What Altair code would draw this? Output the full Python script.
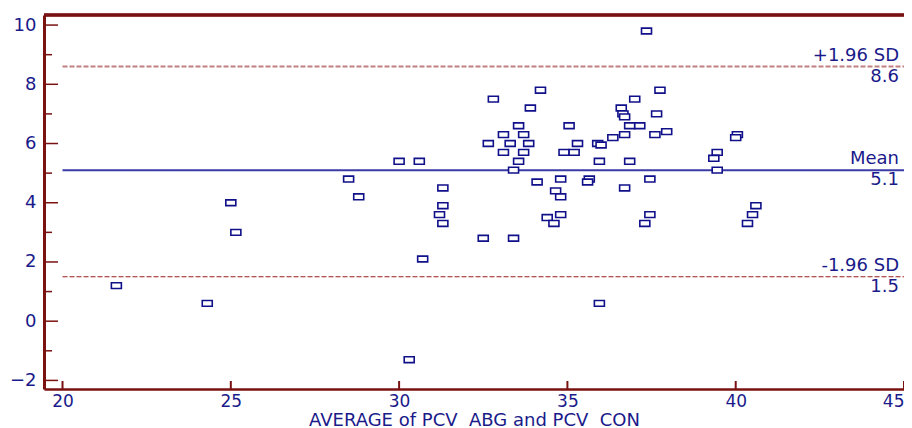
import altair as alt
import pandas as pd

# Bland-Altman data: (average, difference)
avg_vals = [21.6, 24.3, 25.0, 25.15, 28.5, 28.8, 30.0, 30.6, 30.7, 30.3,
            31.3, 31.3, 31.2, 31.3, 32.5, 33.4, 34.1, 34.8, 34.65, 34.8,
            34.8, 34.4, 34.6, 34.2, 32.8, 33.9, 33.55, 35.05, 33.1, 33.7,
            32.65, 33.3, 33.85, 35.3, 33.1, 33.7, 34.9, 35.2, 33.55, 33.4,
            37.35, 37.75, 37.0, 36.6, 36.65, 36.7, 37.65, 36.85, 37.15, 36.7,
            37.6, 37.95, 36.35, 35.9, 36.0, 35.95, 36.85, 40.05, 40.0, 39.45,
            39.35, 39.45, 35.65, 35.6, 37.45, 36.7, 37.45, 37.3, 40.6, 40.5,
            40.35, 35.95]
diff_vals = [1.2, 0.6, 4.0, 3.0, 4.8, 4.2, 5.4, 5.4, 2.1, -1.3,
             4.5, 3.9, 3.6, 3.3, 2.8, 2.8, 4.7, 4.8, 4.4, 4.2,
             3.6, 3.5, 3.3, 7.8, 7.5, 7.2, 6.6, 6.6, 6.3, 6.3,
             6.0, 6.0, 6.0, 6.0, 5.7, 5.7, 5.7, 5.7, 5.4, 5.1,
             9.8, 7.8, 7.5, 7.2, 7.0, 6.9, 7.0, 6.6, 6.6, 6.3,
             6.3, 6.4, 6.2, 6.0, 5.95, 5.4, 5.4, 6.3, 6.2, 5.7,
             5.5, 5.1, 4.8, 4.7, 4.8, 4.5, 3.6, 3.3, 3.9, 3.6,
             3.3, 0.6]

ref_values = [8.6, 5.1, 1.5]
ref_names = ["+1.96 SD", "Mean", "-1.96 SD"]
ref_labels = ["8.6", "5.1", "1.5"]
ref_colors = ["#c08080", "#3a3aa6", "#9a1c1c"]
ref_dash = [[5, 2], [1, 0], [5, 2]]
ref_width = [2, 2, 1.2]

x_ticks = [20, 25, 30, 35, 40, 45]
y_major = [-2, 0, 2, 4, 6, 8, 10]
y_minor = [-1, 1, 3, 5, 7, 9]

X_DOMAIN = [19.45, 45.0]
Y_DOMAIN = [-2.29, 10.34]
W, H = 860, 374

AXIS_COL = "#7a1212"
TEXT_COL = "#1a1a8a"
FONT = "DejaVu Sans"

pts = pd.DataFrame({"avg": avg_vals, "diff": diff_vals})
refs = pd.DataFrame({"v": ref_values, "name": ref_names, "lab": ref_labels,
                     "col": ref_colors, "x0": [20] * 3, "x1": [45] * 3})

xs = alt.Scale(domain=X_DOMAIN, nice=False, zero=False)
ys = alt.Scale(domain=Y_DOMAIN, nice=False, zero=False)

xaxis = alt.Axis(values=x_ticks, ticks=False, tickSize=0, grid=False,
                 domainColor=AXIS_COL, domainWidth=2.5,
                 labelFont=FONT, labelFontSize=17, labelColor=TEXT_COL,
                 labelPadding=4, labelFlush=True,
                 title="AVERAGE of PCV\u00a0 ABG and PCV\u00a0 CON",
                 titleFont=FONT, titleFontSize=18, titleFontWeight="normal",
                 titleColor=TEXT_COL, titleBaseline="alphabetic", titleY=36)
yaxis = alt.Axis(values=y_major, ticks=False, tickSize=0, grid=False,
                 domainColor=AXIS_COL, domainWidth=3,
                 labelFont=FONT, labelFontSize=18, labelColor=TEXT_COL,
                 labelPadding=8, labelFlush=False, title=None)

base_x = alt.X("avg:Q", scale=xs, axis=xaxis)
base_y = alt.Y("diff:Q", scale=ys, axis=yaxis)

rect_shape = "M -1 -0.58 L 1 -0.58 L 1 0.58 L -1 0.58 Z"

ref_lines = []
for i in range(3):
    d = refs.iloc[[i]]
    ref_lines.append(
        alt.Chart(d).mark_rule(color=ref_colors[i], strokeWidth=ref_width[i],
                               strokeDash=ref_dash[i]).encode(
            x=alt.X("x0:Q", scale=xs), x2="x1:Q",
            y=alt.Y("v:Q", scale=ys)))

top_lab = alt.Chart(refs).mark_text(align="right", baseline="alphabetic",
                                    dx=-5, dy=-6, font=FONT, fontSize=18,
                                    color=TEXT_COL).encode(
    x=alt.X("x1:Q", scale=xs), y=alt.Y("v:Q", scale=ys), text="name:N")
bot_lab = alt.Chart(refs).mark_text(align="right", baseline="alphabetic",
                                    dx=-5, dy=15, font=FONT, fontSize=18,
                                    color=TEXT_COL).encode(
    x=alt.X("x1:Q", scale=xs), y=alt.Y("v:Q", scale=ys), text="lab:N")

ymaj = pd.DataFrame({"t": y_major})
ymin = pd.DataFrame({"t": y_minor})
xt = pd.DataFrame({"t": x_ticks})

ytick_major = alt.Chart(ymaj).mark_rule(color=AXIS_COL, strokeWidth=1.5).encode(
    y=alt.Y("t:Q", scale=ys), x=alt.value(1.5), x2=alt.value(14))
ytick_minor = alt.Chart(ymin).mark_rule(color=AXIS_COL, strokeWidth=1.5).encode(
    y=alt.Y("t:Q", scale=ys), x=alt.value(1.5), x2=alt.value(8))
xtick = alt.Chart(xt).mark_rule(color=AXIS_COL, strokeWidth=2).encode(
    x=alt.X("t:Q", scale=xs), y=alt.value(H - 8), y2=alt.value(H))
top_border = alt.Chart(xt).mark_rule(color=AXIS_COL, strokeWidth=2.5).encode(
    y=alt.value(0), x=alt.value(0), x2=alt.value(W + 20))

points = alt.Chart(pts).mark_point(shape=rect_shape, size=100, filled=True,
                                   fill="white", stroke="#10108a",
                                   strokeWidth=1.6, opacity=1).encode(
    x=base_x, y=base_y)

chart = alt.layer(
    *ref_lines, top_lab, bot_lab, points,
    ytick_major, ytick_minor, xtick, top_border
).properties(
    width=W, height=H,
    autosize=alt.AutoSizeParams(type="none"),
    padding={"left": 36, "top": 7, "right": 0, "bottom": 42},
).configure_view(stroke=None)

chart.save("out.html", embed_options={"renderer": "svg", "actions": False})
